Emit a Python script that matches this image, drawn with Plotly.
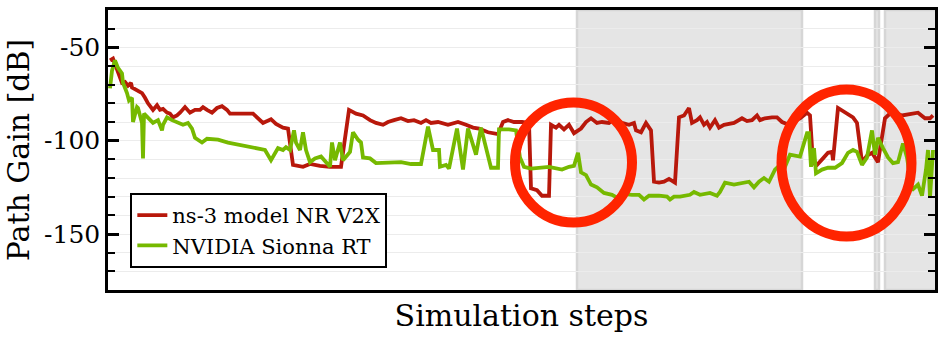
import plotly.graph_objects as go

# path gain per simulation step
ns3_steps = [2, 5, 14, 17, 20, 23, 24, 29, 34, 37, 40, 45, 49, 52, 55, 59, 62, 65, 69, 72,
             77, 82, 87, 92, 95, 99, 104, 109, 114, 119, 122, 130, 145, 155, 163, 168, 175, 180, 185, 195,
             202, 212, 222, 233, 241, 248, 255, 262, 268, 275, 280, 286, 293, 300, 306, 313, 318, 323, 330, 340,
             350, 358, 365, 371, 380, 390, 395, 400, 406, 414, 421, 423, 429, 434, 441, 443, 448, 451, 456, 461,
             466, 473, 478, 483, 489, 494, 501, 508, 514, 521, 526, 528, 533, 538, 543, 546, 551, 556, 561, 567,
             571, 576, 581, 584, 589, 592, 596, 599, 602, 607, 611, 616, 626, 634, 639, 644, 649, 652, 657, 664,
             669, 674, 681, 686, 692, 699, 702, 705, 709, 715, 720, 724, 725, 730, 737, 745, 749, 754, 759, 764,
             770, 777, 782, 787, 794, 802, 810, 817, 822, 825]
ns3_gain = [-57, -56, -69, -68.5, -70.5, -69, -71.5, -73, -74.5, -77, -80, -83.5, -81, -83.5, -83, -85, -85.5, -87.5, -86.5, -85,
            -82, -85, -83.5, -83.5, -82, -83.5, -85, -82.5, -81.5, -83.5, -85.5, -85.5, -85.5, -90.5, -88.5, -91, -93, -93.5, -113, -114,
            -112.5, -113.5, -114, -114, -83.5, -85.5, -86.5, -89, -90.5, -91.5, -90, -89, -88, -89.5, -89, -90.5, -89, -90.5, -90, -91.5,
            -90, -91.5, -93, -93.5, -95.5, -96.5, -90, -89, -90, -90, -90.5, -125.5, -126.5, -129.5, -129.5, -91.5, -93, -91.5, -94, -91.5,
            -96, -93.5, -90, -88, -90.5, -90, -90.5, -88, -90.5, -91.5, -90.5, -94.5, -95.5, -90.5, -94.5, -122, -122.5, -122, -120.5, -122.5,
            -87.5, -86.5, -82.5, -90.5, -89, -87.5, -91.5, -90, -93, -89, -93, -91.5, -90.5, -88, -89.5, -89, -86.5, -89, -88, -87.5,
            -87.5, -90, -91.5, -89.5, -88, -85, -86.5, -112, -113, -109.5, -106.5, -106, -110.5, -82.5, -85, -87.5, -90.5, -111.5, -108, -106.5,
            -111.5, -88, -85.5, -85, -86.5, -85.5, -85, -88, -88, -86.5]

sionna_steps = [2, 4, 7, 10, 14, 15, 19, 21, 24, 25, 29, 30, 34, 35, 36, 40, 45, 50, 54, 55,
                59, 64, 69, 75, 80, 84, 87, 94, 99, 110, 120, 130, 137, 145, 157, 163, 170, 175, 178, 182,
                186, 188, 192, 195, 198, 202, 207, 213, 218, 222, 224, 227, 232, 235, 242, 245, 250, 253, 255, 262,
                268, 275, 286, 293, 303, 313, 320, 325, 331, 332, 338, 341, 349, 355, 360, 368, 373, 383, 390, 391,
                401, 408, 412, 416, 423, 441, 454, 461, 466, 470, 473, 478, 483, 489, 496, 504, 509, 514, 524, 531,
                536, 541, 551, 559, 562, 566, 572, 582, 586, 592, 602, 609, 612, 617, 626, 634, 641, 646, 651, 656,
                661, 667, 674, 677, 682, 692, 699, 701, 703, 706, 708, 714, 720, 727, 734, 740, 745, 749, 754, 759,
                764, 767, 770, 775, 780, 785, 790, 795, 799, 804, 810, 814, 818, 820, 822, 825]
sionna_gain = [-72, -62.5, -57, -61, -64, -69, -74.5, -78.5, -77, -90, -82, -82.5, -90.5, -109.5, -85.5, -87.5, -90.5, -89, -94.5, -91.5,
               -87.5, -89, -90, -91.5, -90.5, -93.5, -98.5, -101, -99, -99.5, -101, -102, -102.5, -103.5, -105, -110.5, -104, -105, -103.5, -105,
               -94.5, -101, -105, -95.5, -105, -111.5, -109.5, -108.5, -111.5, -114, -101, -110.5, -101, -110.5, -106, -95.5, -99.5, -101, -109, -109.5,
               -112, -112, -111.5, -111.5, -112.5, -112.5, -92.5, -105, -105, -114, -113, -115, -93.5, -115.5, -93.5, -107.5, -93, -114.5, -114.5, -94,
               -94, -94.5, -109, -114, -115, -114, -115.5, -114, -113.5, -106.5, -117, -118.5, -123.5, -125, -128, -129, -130.5, -128.5, -129, -129,
               -131.5, -129.5, -129.5, -130, -131.5, -130, -130, -129, -127.5, -129, -128, -129.5, -127.5, -122.5, -123.5, -122.5, -122, -125, -122, -120,
               -122, -115.5, -112, -114, -107.5, -108.5, -96, -96, -114, -104, -117.5, -115.5, -114.5, -114.5, -112, -106.5, -105, -106, -113, -109,
               -94.5, -107.5, -98.5, -104, -109, -112, -111.5, -101.5, -109, -126.5, -123.5, -129.5, -115.5, -105, -130.5, -105]

# steps where the scene is shaded
shaded_spans = [(469, 694), (767, 771), (777, 830)]

FONT = "DejaVu Serif"
RED = "#b8180b"
GREEN = "#76b900"

fig = go.Figure()

for x0, x1 in shaded_spans:
    fig.add_shape(type="rect", xref="x", yref="paper", x0=x0, x1=x1, y0=0, y1=1,
                  fillcolor="#e5e5e5", line={"color": "#d6d6d6", "width": 2.5}, layer="below")

fig.add_trace(go.Scatter(x=ns3_steps, y=ns3_gain, mode="lines", name="ns-3 model NR V2X",
                         line={"color": RED, "width": 3.8}))
fig.add_trace(go.Scatter(x=sionna_steps, y=sionna_gain, mode="lines", name="NVIDIA Sionna RT",
                         line={"color": GREEN, "width": 3.8}))

# highlight circles
for cx, rx, cy, ry in [(465.5, 58.5, -111.7, 32.2), (738.5, 65, -112, 39.4)]:
    fig.add_shape(type="circle", xref="x", yref="y", x0=cx - rx, x1=cx + rx, y0=cy - ry, y1=cy + ry,
                  line={"color": "#ff2400", "width": 10})

fig.update_layout(
    width=944,
    height=345,
    margin={"l": 108, "r": 9, "t": 10, "b": 55},
    plot_bgcolor="white",
    paper_bgcolor="white",
    font={"family": FONT, "color": "black"},
    showlegend=True,
    legend={"x": 0.027, "y": 0.079, "xanchor": "left", "yanchor": "bottom",
            "bgcolor": "white", "bordercolor": "black", "borderwidth": 2,
            "font": {"family": FONT, "size": 21}, "tracegroupgap": 0, "itemwidth": 30},
)
fig.update_xaxes(range=[0, 827], showticklabels=False, ticks="", showgrid=False, zeroline=False,
                 showline=True, linecolor="black", linewidth=2.5, mirror=True, automargin=False,
                 title={"text": "Simulation steps", "font": {"family": FONT, "size": 30}, "standoff": 14})
fig.update_yaxes(range=[-180, -30], tickvals=[-50, -100, -150], ticktext=["-50", "-100", "-150"],
                 ticks="inside", ticklen=11, tickwidth=2.5, tickcolor="black",
                 tickfont={"family": FONT, "size": 25}, automargin=False,
                 showgrid=True, gridcolor="#ececec", gridwidth=1, zeroline=False,
                 minor={"dtick": 10, "tick0": 0, "ticks": "inside", "ticklen": 7, "tickwidth": 2,
                        "tickcolor": "black", "showgrid": True, "gridcolor": "#ececec", "gridwidth": 1},
                 showline=True, linecolor="black", linewidth=2.5, mirror="ticks",
                 title={"text": "Path Gain [dB]", "font": {"family": FONT, "size": 30}, "standoff": 6})

fig.write_html("out.html", config={"displayModeBar": False},
               post_script="document.body.style.margin='0';")
